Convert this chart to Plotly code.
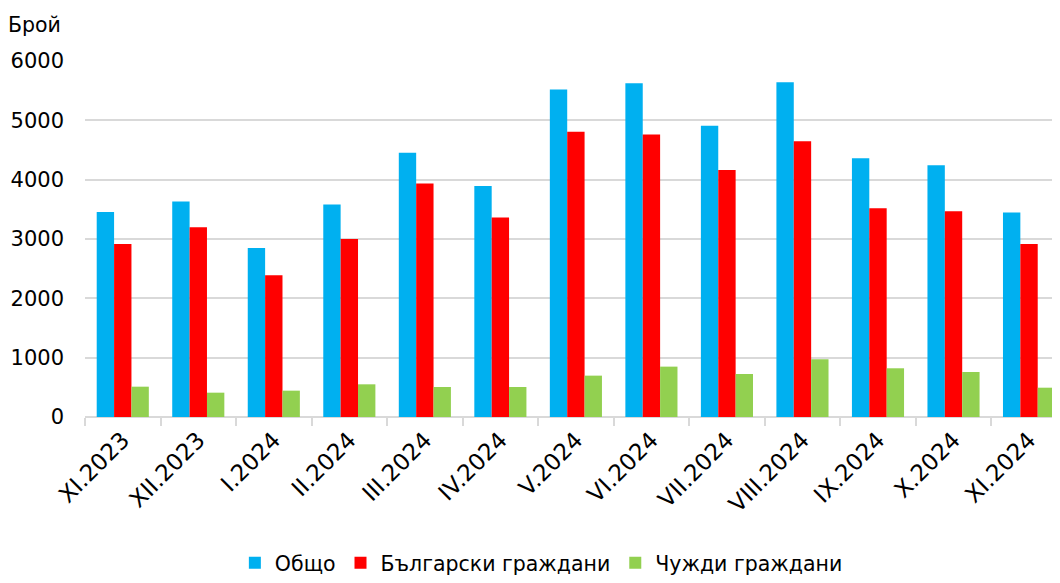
import plotly.graph_objects as go

categories = ["XI.2023", "XII.2023", "I.2024", "II.2024", "III.2024", "IV.2024", "V.2024",
              "VI.2024", "VII.2024", "VIII.2024", "IX.2024", "X.2024", "XI.2024"]
total = [3457, 3631, 2850, 3580, 4452, 3895, 5519, 5626, 4907, 5643, 4362, 4244, 3445]
bulgarian = [2917, 3199, 2389, 3002, 3934, 3361, 4806, 4761, 4165, 4649, 3519, 3468, 2917]
foreign = [511, 410, 444, 551, 506, 506, 697, 849, 725, 973, 821, 759, 494]

series_names = ["Общо", "Български граждани", "Чужди граждани"]
colors = ["#00B0F0", "#FF0000", "#92D050"]
FONT = "DejaVu Sans"
FS = 21

fig = go.Figure()
for name, vals, col in zip(series_names, [total, bulgarian, foreign], colors):
    fig.add_trace(go.Bar(x=categories, y=vals, name=name, marker_color=col,
                         marker_line_width=0))

# the page body adds an 8px offset, so the figure is 8px smaller on each side
fig.update_layout(
    width=1052, height=575,
    margin=dict(l=77, r=0, t=53, b=166, autoexpand=False),
    paper_bgcolor="white", plot_bgcolor="white",
    font=dict(family=FONT, size=FS, color="black"),
    barmode="group", bargap=0.31, bargroupgap=0,
    showlegend=True,
    legend=dict(orientation="h", xref="container", yref="container",
                x=0.507, xanchor="center", y=0.0, yanchor="bottom",
                font=dict(family=FONT, size=20.5, color="black"),
                itemwidth=30, traceorder="normal"),
    annotations=[dict(text="Брой", xref="paper", yref="paper", x=-0.081, y=1.1,
                      xanchor="left", yanchor="middle", showarrow=False,
                      font=dict(family=FONT, size=20.5, color="black"))],
)
fig.update_yaxes(range=[0, 6000], dtick=1000, showgrid=True, gridcolor="#d9d9d9",
                 gridwidth=1.5, zeroline=True, zerolinecolor="#d9d9d9", zerolinewidth=1.5,
                 showline=False, automargin=False,
                 ticklabelstandoff=20, tickfont=dict(size=FS))
fig.update_xaxes(range=[-0.5, 12.41], tickangle=-45, showline=False,
                 ticks="outside", tickson="boundaries", ticklen=8,
                 tickcolor="#d9d9d9", tickwidth=1.5, showgrid=False, automargin=False,
                 ticklabelstandoff=4, tickfont=dict(size=23))

fig.write_html("out.html")
